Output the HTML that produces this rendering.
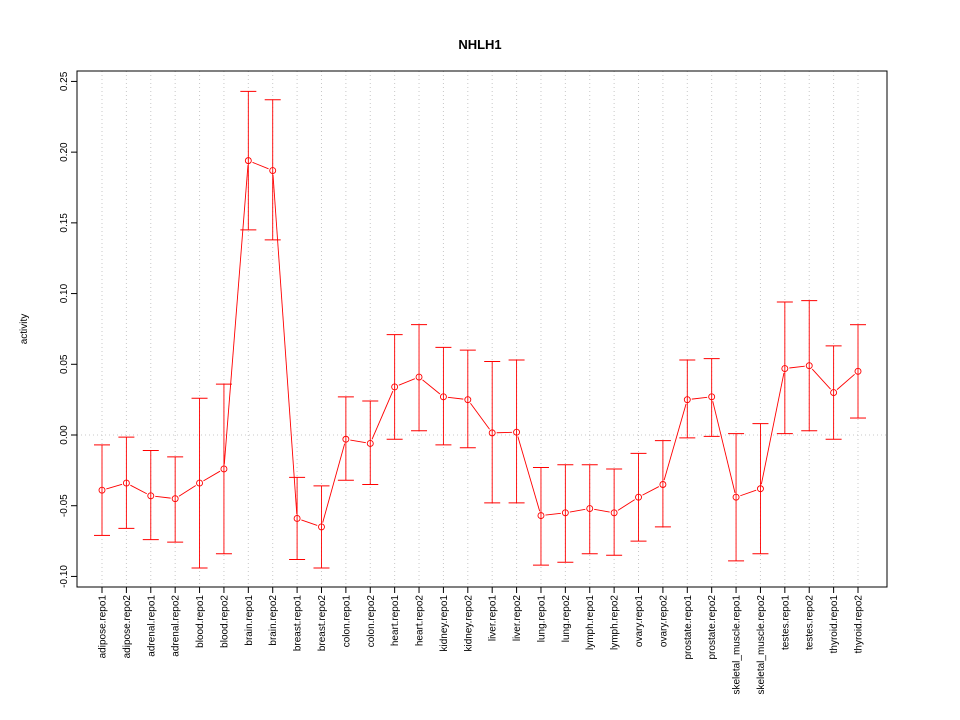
<!DOCTYPE html>
<html><head><meta charset="utf-8"><style>
body{margin:0;background:#fff;}
svg{display:block;font-family:"Liberation Sans",sans-serif;}
</style></head><body>
<svg id="chart" width="960" height="720"></svg>
<script>
const categories=["adipose.repo1","adipose.repo2","adrenal.repo1","adrenal.repo2","blood.repo1","blood.repo2","brain.repo1","brain.repo2","breast.repo1","breast.repo2","colon.repo1","colon.repo2","heart.repo1","heart.repo2","kidney.repo1","kidney.repo2","liver.repo1","liver.repo2","lung.repo1","lung.repo2","lymph.repo1","lymph.repo2","ovary.repo1","ovary.repo2","prostate.repo1","prostate.repo2","skeletal_muscle.repo1","skeletal_muscle.repo2","testes.repo1","testes.repo2","thyroid.repo1","thyroid.repo2"];
const values=[-0.039,-0.034,-0.043,-0.045,-0.034,-0.024,0.194,0.187,-0.059,-0.065,-0.003,-0.006,0.034,0.041,0.027,0.025,0.0015,0.002,-0.057,-0.055,-0.052,-0.055,-0.044,-0.035,0.025,0.027,-0.044,-0.038,0.047,0.049,0.030,0.045];
const upper=[-0.007,-0.0015,-0.011,-0.0155,0.026,0.036,0.243,0.237,-0.030,-0.036,0.027,0.024,0.071,0.078,0.062,0.060,0.052,0.053,-0.023,-0.021,-0.021,-0.024,-0.013,-0.004,0.053,0.054,0.001,0.008,0.094,0.095,0.063,0.078];
const lower=[-0.071,-0.066,-0.074,-0.0757,-0.094,-0.084,0.145,0.138,-0.088,-0.094,-0.032,-0.035,-0.003,0.003,-0.007,-0.009,-0.048,-0.048,-0.092,-0.090,-0.084,-0.085,-0.075,-0.065,-0.002,-0.001,-0.089,-0.084,0.001,0.003,-0.003,0.012];
const yTicks=[-0.10,-0.05,0.00,0.05,0.10,0.15,0.20,0.25];
const yTickLabels=["-0.10","-0.05","0.00","0.05","0.10","0.15","0.20","0.25"];

const NS="http://www.w3.org/2000/svg";
const svg=document.getElementById('chart');
const L=77,R=887,T=71,B=587;
const x=i=>102+i*(858-102)/(categories.length-1);
const y=v=>435-v*1414.3;
function mk(tag,attrs,parent){const e=document.createElementNS(NS,tag);for(const k in attrs)e.setAttribute(k,attrs[k]);(parent||svg).appendChild(e);return e;}

const t=mk('text',{x:480,y:49,'text-anchor':'middle','font-size':13,'font-weight':'bold'});
t.textContent='NHLH1';



const grid=mk('g',{});


categories.forEach((c,i)=>{mk('line',{x1:x(i),x2:x(i),y1:T,y2:B,stroke:'#c8c8c8','stroke-dasharray':'1,3'},grid);});
mk('line',{x1:L,x2:R,y1:y(0),y2:y(0),stroke:'#c8c8c8','stroke-dasharray':'1,3'},grid);

const frame=mk('rect',{x:L,y:T,width:R-L,height:B-T,fill:'none',stroke:'#000'});



const yax=mk('g',{});


yTicks.forEach((v,i)=>{
  mk('line',{x1:L-6,x2:L,y1:y(v),y2:y(v),stroke:'#000'},yax);
  const tl=mk('text',{x:0,y:0,'font-size':10,'text-anchor':'middle',transform:`translate(67,${y(v)}) rotate(-90)`},yax);
  tl.textContent=yTickLabels[i];
  
  
});
const yt=mk('text',{x:0,y:0,'font-size':10,'text-anchor':'middle',transform:`translate(27,${(T+B)/2}) rotate(-90)`});
yt.textContent='activity';



const xax=mk('g',{});


categories.forEach((c,i)=>{
  mk('line',{x1:x(i),x2:x(i),y1:B,y2:B+6,stroke:'#000'},xax);
  const tl=mk('text',{x:0,y:0,'font-size':10,'text-anchor':'end',transform:`translate(${x(i)+3.5},595) rotate(-90)`},xax);
  tl.textContent=c;
  
  
});

const ser=mk('g',{});


categories.forEach((c,i)=>{
  mk('line',{x1:x(i),x2:x(i),y1:y(upper[i]),y2:y(lower[i]),stroke:'red','stroke-width':0.9},ser);
  mk('line',{x1:x(i)-8,x2:x(i)+8,y1:y(upper[i]),y2:y(upper[i]),stroke:'red'},ser);
  mk('line',{x1:x(i)-8,x2:x(i)+8,y1:y(lower[i]),y2:y(lower[i]),stroke:'red'},ser);
});
const r=3;
for(let i=0;i<values.length-1;i++){
  const x1=x(i),y1=y(values[i]),x2=x(i+1),y2=y(values[i+1]);
  const d=Math.hypot(x2-x1,y2-y1);
  if(d<=2*r+1)continue;
  const ux=(x2-x1)/d,uy=(y2-y1)/d,g=r+1.5;
  mk('line',{x1:x1+ux*g,y1:y1+uy*g,x2:x2-ux*g,y2:y2-uy*g,stroke:'red','stroke-width':0.9},ser);
}
values.forEach((v,i)=>{
  const p=mk('circle',{cx:x(i),cy:y(v),r:r,fill:'none',stroke:'red','stroke-width':0.9},ser);
  
  
});
</script>
</body></html>
